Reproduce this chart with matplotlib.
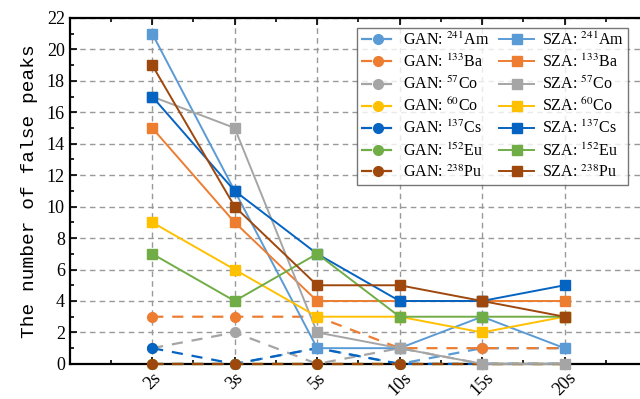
import numpy as np
import matplotlib
matplotlib.use("Agg")
import matplotlib.pyplot as plt
from matplotlib.ticker import MultipleLocator

times = ["2s", "3s", "5s", "10s", "15s", "20s"]
isotopes = ["$^{241}$Am", "$^{133}$Ba", "$^{57}$Co", "$^{60}$Co",
            "$^{137}$Cs", "$^{152}$Eu", "$^{238}$Pu"]
colors = ["#5B9BD5", "#ED7D31", "#A5A5A5", "#FFC000",
          "#0563C1", "#70AD47", "#9E480E"]

gan_am = [0, 0, 1, 0, 1, 1]
gan_ba = [3, 3, 3, 1, 1, 1]
gan_co57 = [1, 2, 0, 1, 0, 0]
gan_co60 = [0, 0, 0, 0, 0, 0]
gan_cs = [1, 0, 1, 0, 0, 0]
gan_eu = [0, 0, 0, 0, 0, 0]
gan_pu = [0, 0, 0, 0, 0, 0]

sza_am = [21, 11, 1, 1, 3, 1]
sza_ba = [15, 9, 4, 4, 4, 4]
sza_co57 = [17, 15, 2, 1, 0, 0]
sza_co60 = [9, 6, 3, 3, 2, 3]
sza_cs = [17, 11, 7, 4, 4, 5]
sza_eu = [7, 4, 7, 3, 3, 3]
sza_pu = [19, 10, 5, 5, 4, 3]

gan = [gan_am, gan_ba, gan_co57, gan_co60, gan_cs, gan_eu, gan_pu]
sza = [sza_am, sza_ba, sza_co57, sza_co60, sza_cs, sza_eu, sza_pu]

plt.rcParams['font.family'] = ['Liberation Serif', 'DejaVu Serif']
plt.rcParams['mathtext.fontset'] = 'stix'

fig = plt.figure(figsize=(6.4, 3.99), dpi=100)
ax = fig.add_axes([0.109, 0.088, 0.902, 0.867])

x = np.arange(1, len(times) + 1)
handles = []
for name, c, ys in zip(isotopes, colors, gan):
    h, = ax.plot(x, ys, color=c, ls=(0, (5, 4)), lw=1.6, marker='o', ms=7,
                 label="GAN: " + name, clip_on=False, zorder=3)
    handles.append(h)
for name, c, ys in zip(isotopes, colors, sza):
    h, = ax.plot(x, ys, color=c, ls='-', lw=1.4, marker='s', ms=7,
                 label="SZA: " + name, clip_on=False, zorder=3)
    handles.append(h)

ax.set_xlim(0, 7)
ax.set_ylim(0, 22)
ax.set_xticks(x)
ax.set_xticklabels(times, rotation=45, ha='center', fontsize=13)
ax.xaxis.set_minor_locator(MultipleLocator(0.5))
ax.yaxis.set_major_locator(MultipleLocator(2))
ax.yaxis.set_minor_locator(MultipleLocator(1))
ax.tick_params(axis='both', which='both', direction='in', top=True)
ax.tick_params(axis='both', which='major', length=5, width=1.2)
ax.tick_params(axis='both', which='minor', length=3, width=1.2)
ax.tick_params(axis='y', labelsize=13)
ax.tick_params(axis='x', pad=4)
for s in ['left', 'bottom', 'top']:
    ax.spines[s].set_linewidth(1.6)
ax.spines['right'].set_visible(False)

ax.grid(True, which='major', color='#999999', ls=(0, (4, 3)), lw=1.0)
ax.set_axisbelow(True)

ax.set_ylabel("The number of false peaks", family=['Liberation Mono'],
              fontsize=14, labelpad=6)

leg = ax.legend(handles=handles, ncol=2, loc='upper left',
                bbox_to_anchor=(0.497, 0.972), fontsize=11.5,
                frameon=True, fancybox=False, edgecolor='#555555',
                handlelength=2.2, columnspacing=0.6, labelspacing=0.3,
                borderpad=0.25, handletextpad=0.45, borderaxespad=0)
leg.get_frame().set_linewidth(1.0)
leg.set_zorder(5)

fig.savefig("out.png", dpi=100)
